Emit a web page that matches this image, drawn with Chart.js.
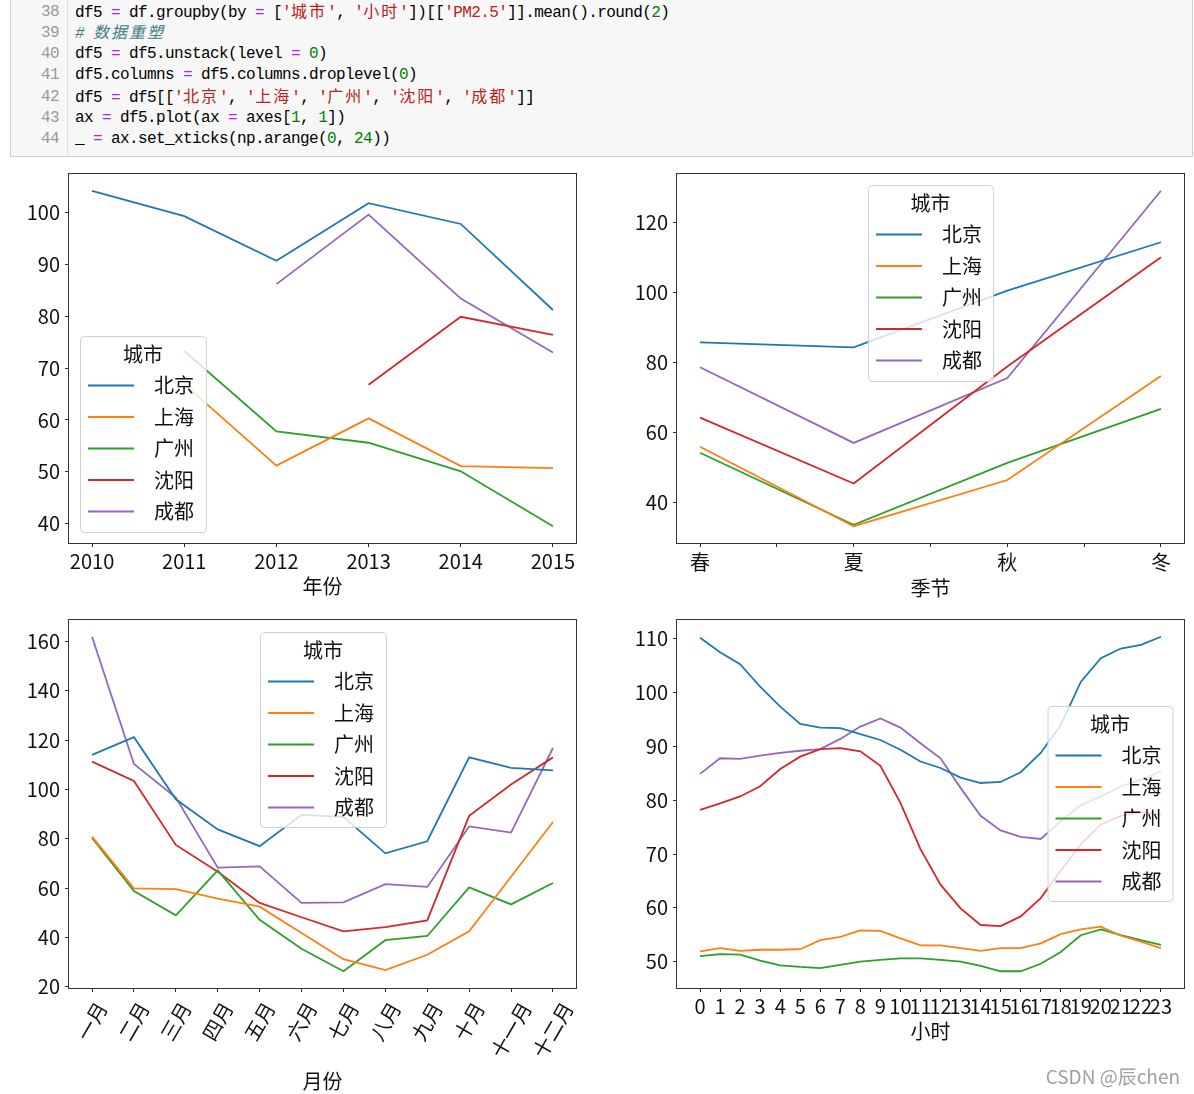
<!DOCTYPE html>
<html>
<head>
<meta charset="utf-8">
<script src="https://cdn.jsdelivr.net/npm/chart.js@4.4.1/dist/chart.umd.min.js"></script>
<style>
  html, body { margin: 0; padding: 0; background: #fff; }
  body { width: 1194px; height: 1094px; position: relative; overflow: hidden; }
  #code { position: absolute; left: 10px; top: -1px; width: 1183px; height: 158px; box-sizing: border-box;
          background: #f7f7f7; border: 1px solid #cfcfcf; font-family: "Liberation Mono", "Noto Sans CJK SC", monospace;
          font-size: 16px; letter-spacing: -0.6px; }
  #gutter { position: absolute; left: 0; top: 0; width: 57px; height: 100%; border-right: 1px solid #dddddd;
            text-align: right; color: #999; box-sizing: border-box; padding: 2px 8px 0 0; }
  #src { position: absolute; left: 64px; top: 2px; color: #000; }
  .ln { height: 21.17px; line-height: 21.17px; overflow: visible; white-space: pre; }
  .o { color: #aa22ff; }
  .s { color: #ba2121; }
  .n { color: #008000; }
  .c { color: #408080; font-style: italic; }
  .cj { letter-spacing: 2px; font-family: "Noto Sans CJK SC", sans-serif; line-height: 1; }
  canvas { position: absolute; }
  #wm { position: absolute; right: 14px; top: 1062px; font-family: "Noto Sans CJK SC", sans-serif; font-size: 19px; color: #a0a0a0; }
</style>
</head>
<body>
<div id="code"><div id="gutter"><div class="ln">38</div><div class="ln">39</div><div class="ln">40</div><div class="ln">41</div><div class="ln">42</div><div class="ln">43</div><div class="ln">44</div></div><div id="src"><div class="ln">df5 <span class="o">=</span> df.groupby(by <span class="o">=</span> [<span class="s">'<span class="cj">城市</span>'</span>, <span class="s">'<span class="cj">小时</span>'</span>])[[<span class="s">'PM2.5'</span>]].mean().round(<span class="n">2</span>)</div><div class="ln"><span class="c"># <span class="cj">数据重塑</span></span></div><div class="ln">df5 <span class="o">=</span> df5.unstack(level <span class="o">=</span> <span class="n">0</span>)</div><div class="ln">df5.columns <span class="o">=</span> df5.columns.droplevel(<span class="n">0</span>)</div><div class="ln">df5 <span class="o">=</span> df5[[<span class="s">'<span class="cj">北京</span>'</span>, <span class="s">'<span class="cj">上海</span>'</span>, <span class="s">'<span class="cj">广州</span>'</span>, <span class="s">'<span class="cj">沈阳</span>'</span>, <span class="s">'<span class="cj">成都</span>'</span>]]</div><div class="ln">ax <span class="o">=</span> df5.plot(ax <span class="o">=</span> axes[<span class="n">1</span>, <span class="n">1</span>])</div><div class="ln">_ <span class="o">=</span> ax.set_xticks(np.arange(<span class="n">0</span>, <span class="n">24</span>))</div></div></div>

<canvas id="c1" width="600" height="445" style="left:0px;top:160px;"></canvas>
<canvas id="c2" width="594" height="445" style="left:600px;top:160px;"></canvas>
<canvas id="c3" width="600" height="489" style="left:0px;top:605px;"></canvas>
<canvas id="c4" width="594" height="489" style="left:600px;top:605px;"></canvas>
<div id="wm">CSDN @辰chen</div>

<script>
// ---------------- data ----------------
const cities = ['北京', '上海', '广州', '沈阳', '成都'];
const legendTitle = '城市';

const years = [2010, 2011, 2012, 2013, 2014, 2015];
const yearBeijing   = [104.2, 99.3, 90.7, 101.8, 97.8, 81.2];
const yearShanghai  = [null, 66.9, 51.2, 60.3, 51.1, 50.7];
const yearGuangzhou = [null, 73.3, 57.8, 55.6, 50.1, 39.5];
const yearShenyang  = [null, null, null, 66.8, 79.9, 76.4];
const yearChengdu   = [null, null, 86.2, 99.6, 83.4, 73.0];
const yearYTicks = [40, 50, 60, 70, 80, 90, 100];

const seasons = ['春', '夏', '秋', '冬'];
const seasonBeijing   = [85.7, 84.3, 100.5, 114.3];
const seasonShanghai  = [55.9, 33.2, 46.4, 76.1];
const seasonGuangzhou = [54.2, 33.6, 51.3, 66.7];
const seasonShenyang  = [64.2, 45.4, 78.8, 110.0];
const seasonChengdu   = [78.6, 57.0, 75.5, 129.0];
const seasonYTicks = [40, 60, 80, 100, 120];

const months = ['一月', '二月', '三月', '四月', '五月', '六月', '七月', '八月', '九月', '十月', '十一月', '十二月'];
const monthBeijing   = [114.0, 121.2, 96.0, 83.8, 77.0, 89.7, 88.9, 74.1, 79.0, 113.0, 108.7, 107.7];
const monthShanghai  = [80.9, 59.9, 59.6, 55.7, 52.5, 41.8, 31.2, 26.8, 33.0, 42.5, 64.6, 86.8];
const monthGuangzhou = [80.3, 58.8, 49.0, 67.2, 47.2, 35.4, 26.3, 38.9, 40.6, 60.3, 53.4, 62.1];
const monthShenyang  = [111.3, 103.4, 77.5, 66.6, 54.0, 48.2, 42.5, 44.2, 46.9, 89.3, 102.0, 113.0];
const monthChengdu   = [161.9, 110.3, 96.7, 68.3, 68.8, 54.0, 54.2, 61.6, 60.5, 85.0, 82.5, 116.8];
const monthYTicks = [20, 40, 60, 80, 100, 120, 140, 160];

const hours = [0,1,2,3,4,5,6,7,8,9,10,11,12,13,14,15,16,17,18,19,20,21,22,23];
const hourBeijing   = [110.2,107.5,105.3,101.1,97.4,94.2,93.5,93.4,92.3,91.2,89.4,87.2,86.0,84.2,83.2,83.4,85.2,88.8,94.0,102.0,106.4,108.2,108.9,110.4];
const hourShanghai  = [51.9,52.5,52.0,52.2,52.2,52.3,54.0,54.6,55.8,55.7,54.3,53.0,53.0,52.5,52.0,52.5,52.5,53.4,55.1,56.0,56.5,54.8,53.7,52.5];
const hourGuangzhou = [51.0,51.4,51.3,50.2,49.3,49.0,48.8,49.4,50.0,50.3,50.6,50.6,50.3,50.0,49.2,48.2,48.2,49.6,51.8,54.9,56.0,54.9,54.0,53.1];
const hourShenyang  = [78.2,79.4,80.7,82.6,85.8,88.1,89.5,89.7,89.1,86.4,79.5,70.9,64.3,59.9,56.8,56.6,58.4,61.8,66.9,71.8,75.5,77.1,77.8,77.3];
const hourChengdu   = [84.9,87.8,87.7,88.3,88.8,89.2,89.5,91.4,93.7,95.2,93.5,90.6,87.8,82.3,77.1,74.4,73.2,72.8,76.1,79.1,80.7,82.6,83.8,85.4];
const hourYTicks = [50, 60, 70, 80, 90, 100, 110];

// ---------------- styling ----------------
const colors = ['#1f77b4', '#ff7f0e', '#2ca02c', '#d62728', '#9467bd'];
const FONT = '"Noto Sans CJK SC", "Noto Sans", sans-serif';
const TXT = '#111';

function margins(series, frac) {
  const all = series.flat().filter(v => v !== null);
  const lo = Math.min(...all), hi = Math.max(...all), r = hi - lo;
  return [lo - r * frac, hi + r * frac];
}

const mplPlugin = {
  id: 'mpl',
  afterDatasetsDraw(chart, args, o) {
    const ctx = chart.ctx, a = chart.chartArea;
    ctx.save();
    ctx.strokeStyle = '#333';
    ctx.lineWidth = 1;
    ctx.strokeRect(Math.round(a.left) - 0.5, Math.round(a.top) - 0.5,
                   Math.round(a.right - a.left) + 1, Math.round(a.bottom - a.top) + 1);
    const L = o.legend;
    if (L) {
      ctx.beginPath();
      if (ctx.roundRect) ctx.roundRect(L.x + 0.5, L.y + 0.5, L.w, L.h, 4);
      else ctx.rect(L.x + 0.5, L.y + 0.5, L.w, L.h);
      ctx.fillStyle = 'rgba(255,255,255,0.8)';
      ctx.fill();
      ctx.strokeStyle = '#d0d0d0';
      ctx.lineWidth = 1;
      ctx.stroke();
      ctx.fillStyle = TXT;
      ctx.font = '20px ' + FONT;
      ctx.textAlign = 'center';
      ctx.textBaseline = 'middle';
      ctx.fillText(legendTitle, L.x + L.w / 2, L.y + 18);
      chart.data.datasets.forEach((ds, i) => {
        const y = L.y + 49.5 + i * 31.5;
        ctx.strokeStyle = ds.borderColor;
        ctx.lineWidth = 2;
        ctx.beginPath();
        ctx.moveTo(L.x + 8, y);
        ctx.lineTo(L.x + 54, y);
        ctx.stroke();
        ctx.fillStyle = TXT;
        ctx.textAlign = 'left';
        ctx.fillText(ds.label, L.x + 74, y);
      });
    }
    ctx.restore();
  },
  afterDraw(chart, args, o) {
    if (!o.rotLabels) return;
    const ctx = chart.ctx, a = chart.chartArea, xs = chart.scales.x;
    const ang = 60 * Math.PI / 180;
    ctx.save();
    ctx.font = '20px ' + FONT;
    ctx.fillStyle = TXT;
    ctx.textAlign = 'center';
    ctx.textBaseline = 'middle';
    o.rotLabels.forEach((lab, i) => {
      const x = xs.getPixelForValue(i);
      const w = ctx.measureText(lab).width, h = 20;
      const bh = w * Math.sin(ang) + h * Math.cos(ang);
      const cy = a.bottom + 11 + bh / 2;
      ctx.save();
      ctx.translate(x, cy);
      ctx.rotate(-ang);
      ctx.fillText(lab, 0, 0);
      ctx.restore();
    });
    ctx.restore();
  }
};

function makeChart(id, cfg) {
  const canvas = document.getElementById(id);
  const H = canvas.height;
  const [ymin, ymax] = margins(cfg.series, 0.05);
  const datasets = cfg.series.map((vals, i) => ({
    label: cities[i],
    data: vals.map((v, j) => ({ x: cfg.xs[j], y: v })),
    borderColor: colors[i],
    backgroundColor: colors[i],
    borderWidth: 1.8,
    pointRadius: 0,
    fill: false,
    tension: 0,
    spanGaps: false
  }));
  return new Chart(canvas, {
    type: 'line',
    data: { datasets },
    plugins: [mplPlugin],
    options: {
      responsive: false,
      animation: false,
      events: [],
      layout: { padding: { left: 0, top: cfg.top, right: cfg.right, bottom: 0 } },
      plugins: {
        legend: { display: false },
        tooltip: { enabled: false },
        mpl: { legend: cfg.legend, rotLabels: cfg.rotLabels || null }
      },
      scales: {
        x: {
          type: 'linear',
          min: cfg.xmin, max: cfg.xmax,
          afterBuildTicks: s => { s.ticks = cfg.xticks.map(v => ({ value: v })); },
          afterFit: s => { s.height = H - cfg.bottom; s.paddingLeft = 0; s.paddingRight = 0; },
          grid: { drawOnChartArea: false, drawTicks: true, tickLength: 4, tickColor: '#333', tickWidth: 1 },
          border: { display: false },
          ticks: {
            autoSkip: false, maxRotation: 0, minRotation: 0, includeBounds: false,
            padding: cfg.xpad, color: TXT, font: { family: FONT, size: 20 },
            callback: cfg.xlabel
          },
          title: { display: true, text: cfg.xtitle, color: TXT, font: { family: FONT, size: 20 },
                   padding: { top: 0, bottom: cfg.titlePad } }
        },
        y: {
          type: 'linear',
          min: ymin, max: ymax,
          afterBuildTicks: s => { s.ticks = cfg.yticks.map(v => ({ value: v })); },
          afterFit: s => { s.width = cfg.left; s.paddingTop = 0; s.paddingBottom = 0; },
          grid: { drawOnChartArea: false, drawTicks: true, tickLength: 4, tickColor: '#333', tickWidth: 1 },
          border: { display: false },
          ticks: { autoSkip: false, includeBounds: false, padding: 5, color: TXT, font: { family: FONT, size: 20 } }
        }
      }
    }
  });
}

makeChart('c1', {
  series: [yearBeijing, yearShanghai, yearGuangzhou, yearShenyang, yearChengdu],
  xs: years, xmin: 2009.75, xmax: 2015.25, xticks: years,
  xlabel: v => String(v), xtitle: '年份', yticks: yearYTicks,
  left: 69, top: 14, right: 24, bottom: 383, xpad: 2, titlePad: 7,
  legend: { x: 80, y: 176, w: 126, h: 196 }
});

makeChart('c2', {
  series: [seasonBeijing, seasonShanghai, seasonGuangzhou, seasonShenyang, seasonChengdu],
  xs: [0, 1, 2, 3], xmin: -0.15, xmax: 3.15, xticks: [0, 0.5, 1, 1.5, 2, 2.5, 3],
  xlabel: v => Number.isInteger(v) ? seasons[v] : '', xtitle: '季节', yticks: seasonYTicks,
  left: 77, top: 14, right: 10, bottom: 383, xpad: 3, titlePad: 5,
  legend: { x: 268, y: 25, w: 125, h: 196 }
});

makeChart('c3', {
  series: [monthBeijing, monthShanghai, monthGuangzhou, monthShenyang, monthChengdu],
  xs: months.map((m, i) => i), xmin: -0.55, xmax: 11.55, xticks: months.map((m, i) => i),
  xlabel: () => '', xtitle: '月份', yticks: monthYTicks,
  left: 69, top: 15, right: 24, bottom: 383, xpad: 3, titlePad: 1,
  legend: { x: 260, y: 27, w: 126, h: 195 }, rotLabels: months
});

makeChart('c4', {
  series: [hourBeijing, hourShanghai, hourGuangzhou, hourShenyang, hourChengdu],
  xs: hours, xmin: -1.15, xmax: 24.15, xticks: hours,
  xlabel: v => String(v), xtitle: '小时', yticks: hourYTicks,
  left: 77, top: 15, right: 10, bottom: 383, xpad: 2, titlePad: 51,
  legend: { x: 447.5, y: 101, w: 125, h: 195 }
});
</script>
</body>
</html>
